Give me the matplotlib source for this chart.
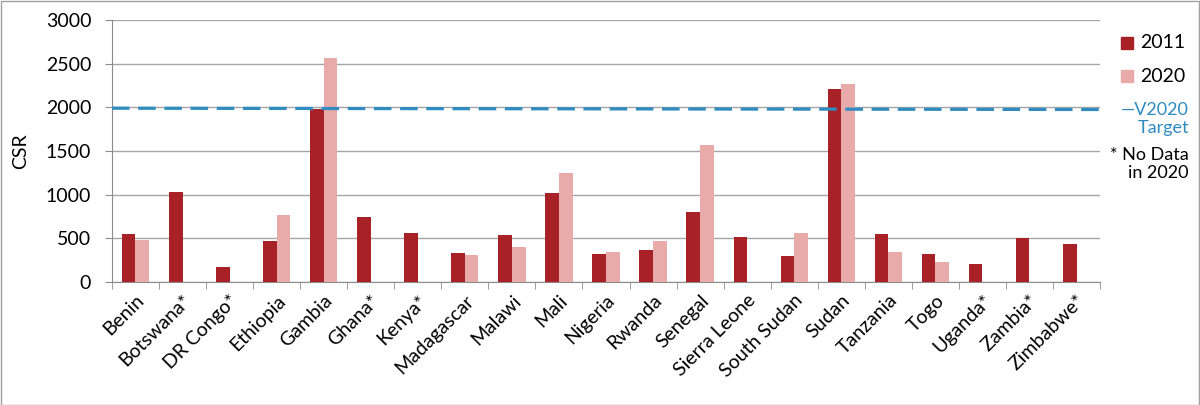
import numpy as np
import matplotlib.pyplot as plt
from matplotlib.patches import Rectangle

countries = ['Benin', 'Botswana*', 'DR Congo*', 'Ethiopia', 'Gambia', 'Ghana*', 'Kenya*',
             'Madagascar', 'Malawi', 'Mali', 'Nigeria', 'Rwanda', 'Senegal', 'Sierra Leone',
             'South Sudan', 'Sudan', 'Tanzania', 'Togo', 'Uganda*', 'Zambia*', 'Zimbabwe*']
csr_2011 = [550, 1027, 168, 473, 1977, 741, 557, 328, 538, 1019, 317, 363, 805, 512,
            294, 2210, 550, 320, 203, 504, 435]
csr_2020 = [481, np.nan, np.nan, 771, 2570, np.nan, np.nan, 305, 400, 1252, 340, 469, 1573, np.nan,
            561, 2264, 340, 233, np.nan, np.nan, np.nan]
target_ends = [1990, 1975]   # dashed V2020 target line, left and right end

c2011 = '#A82126'
c2020 = '#E9AAAA'
cblue = '#2F8BC0'
grey = '#8C8C8C'

plt.rcParams['font.family'] = ['Lato', 'DejaVu Sans']

fig = plt.figure(figsize=(12, 4.05), dpi=100)
ax = fig.add_axes([0.0933, 0.3037, 0.8234, 0.6469])

x = np.arange(len(countries))
w = 0.29
ax.bar(x - w / 2, csr_2011, w, color=c2011, zorder=3)
ax.bar(x + w / 2, csr_2020, w, color=c2020, zorder=3)
ax.plot([-0.5, len(countries) - 0.5], target_ends, '--', color=cblue, lw=2.3,
        dashes=(5.5, 2.7), zorder=4)

ax.set_xlim(-0.5, len(countries) - 0.5)
ax.set_ylim(0, 3000)
ax.set_yticks(range(0, 3001, 500))
ax.yaxis.grid(True, color='#A6A6A6', lw=1, zorder=0)
ax.set_xticks(x)
ax.set_xticklabels(countries, rotation=45, ha='right', rotation_mode='anchor', fontsize=14)
ax.set_xticks(np.arange(-0.5, len(countries)), minor=True)
ax.tick_params(axis='x', which='major', length=0, pad=7)
ax.tick_params(axis='x', which='minor', length=5, color=grey)
ax.tick_params(axis='y', length=5, color=grey, labelsize=14, pad=10)
for s in ['top', 'right']:
    ax.spines[s].set_visible(False)
for s in ['left', 'bottom']:
    ax.spines[s].set_color(grey)
ax.set_ylabel('CSR', fontsize=14, labelpad=12)

# legend on the right, drawn as figure text
fig.add_artist(Rectangle((1121 / 1200, 1 - 49 / 405), 12 / 1200, 12 / 405,
                         transform=fig.transFigure, color=c2011))
fig.add_artist(Rectangle((1121 / 1200, 1 - 82 / 405), 12 / 1200, 12 / 405,
                         transform=fig.transFigure, color=c2020))
fig.text(1140 / 1200, 1 - 43 / 405, '2011', fontsize=14, va='center', ha='left')
fig.text(1140 / 1200, 1 - 76 / 405, '2020', fontsize=14, va='center', ha='left')
fig.text(1189 / 1200, 1 - 119 / 405, '\u2014V2020\nTarget', fontsize=13, color=cblue,
         va='center', ha='right', multialignment='right', linespacing=1.2)
fig.text(1189 / 1200, 1 - 164 / 405, '* No Data\nin 2020', fontsize=13,
         va='center', ha='right', multialignment='right', linespacing=1.2)

fig.add_artist(Rectangle((0.001, 0.001), 0.998, 0.997, transform=fig.transFigure,
                         fill=False, edgecolor='#A0A0A0', lw=1))

fig.savefig('out.png', dpi=100)
